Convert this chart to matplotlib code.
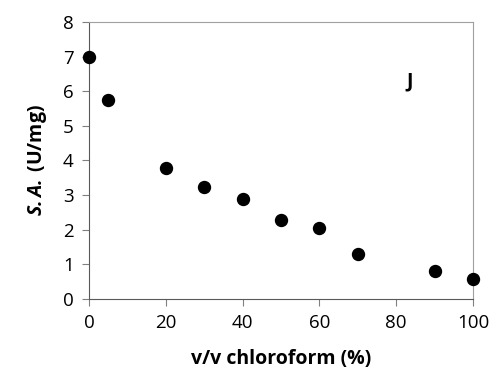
import numpy as np
import matplotlib.pyplot as plt

plt.rcParams['font.family'] = ['Open Sans', 'DejaVu Sans']
plt.rcParams['mathtext.fontset'] = 'custom'
plt.rcParams['mathtext.bfit'] = 'Open Sans:italic:bold'
plt.rcParams['mathtext.rm'] = 'Open Sans:bold'

# Data
chloroform = [0, 5, 20, 30, 40, 50, 60, 70, 90, 100]
spec_act = [7.0, 5.75, 3.78, 3.24, 2.89, 2.27, 2.04, 1.31, 0.82, 0.58]
x_ticks = [0, 20, 40, 60, 80, 100]
y_ticks = [0, 1, 2, 3, 4, 5, 6, 7, 8]

fig = plt.figure(figsize=(4.94, 3.84), dpi=100)
ax = fig.add_axes([0.180, 0.2214, 0.7775, 0.7213])

ax.plot(chloroform, spec_act, 'o', color='black', markersize=8.6, clip_on=False, zorder=3)

ax.set_xlim(0, 100)
ax.set_ylim(0, 8)
ax.set_xticks(x_ticks)
ax.set_yticks(y_ticks)
ax.tick_params(direction='out', length=5, width=0.8, color='#808080',
               labelsize=13.5, pad=6)

for side in ['left', 'bottom']:
    ax.spines[side].set_color('#595959')
    ax.spines[side].set_linewidth(0.8)
for side in ['top', 'right']:
    ax.spines[side].set_color('#a0a0a0')
    ax.spines[side].set_linewidth(0.8)

ax.set_xlabel('v/v chloroform (%)', fontsize=14, fontweight='bold', labelpad=12)
ax.set_ylabel(r'$\mathbfit{S.A.}\,$(U/mg)', fontsize=14, fontweight='bold', labelpad=10)

ax.text(83.6, 6.27, 'J', fontsize=14, fontweight='bold', ha='center', va='center')

plt.savefig('out.png', dpi=100)
